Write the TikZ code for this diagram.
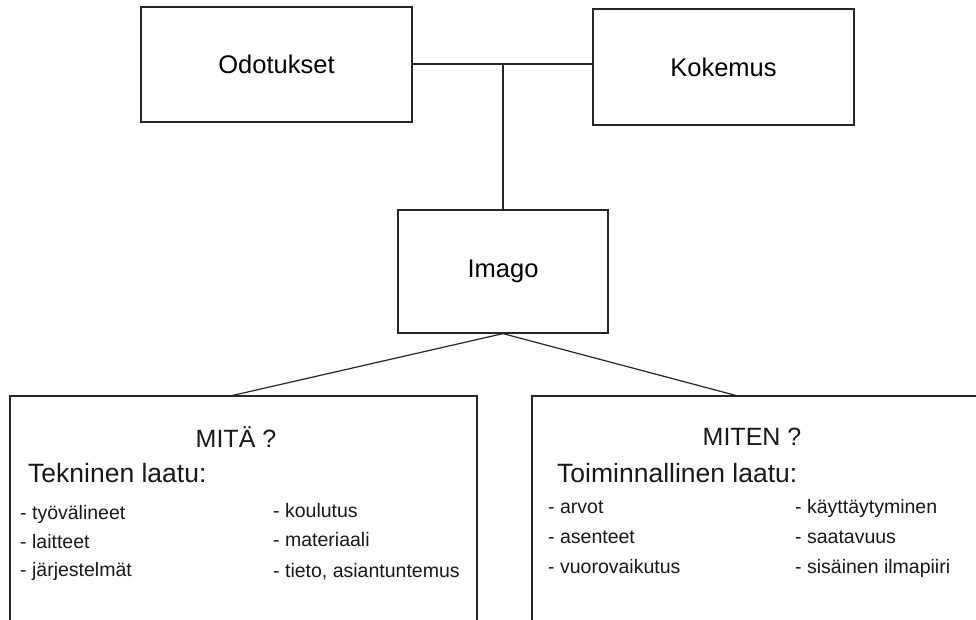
\documentclass[tikz,border=0pt]{standalone}
\usepackage{fontspec}
\setmainfont{Liberation Sans}
\begin{document}
\begin{tikzpicture}[x=1pt,y=-1pt,
  box/.style={draw=black!85,line width=1.2pt,inner sep=0pt,font=\fontsize{25.5}{30}\selectfont},
  link/.style={draw=black!85,line width=1.2pt},
  txt/.style={inner sep=0pt,text=black!90},
  head/.style={txt,anchor=base,font=\fontsize{25}{30}\selectfont},
  sub/.style={txt,anchor=base west,font=\fontsize{26.5}{31}\selectfont},
  item/.style={txt,anchor=base west,font=\fontsize{19.5}{23}\selectfont}]
\useasboundingbox (0,0) rectangle (976,619);
\clip (0,0) rectangle (976,619);
\fill[white] (0,0) rectangle (976,619);

% upper boxes
\node[box,minimum width=271pt,minimum height=115pt] (odo) at (276.5,64.5) {Odotukset};
\node[box,minimum width=261pt,minimum height=116pt] (kok) at (723.5,67) {Kokemus};
\node[box,minimum width=210pt,minimum height=123pt] (imago) at (503,271.5) {Imago};

% lower boxes (run past the bottom edge)
\node[box,minimum width=467pt,minimum height=250pt] (mita) at (243.5,521) {};
\node[box,minimum width=460pt,minimum height=250pt] (miten) at (762,521) {};

% attachment points on the lower boxes
\coordinate (ml) at (230,396);
\coordinate (mr) at (738,396);

% connectors
\draw[link] (odo.east |- 0,64) -- (kok.west |- 0,64);
\draw[link] (imago.north) -- (imago.north |- 0,64);
\draw[link] (imago.south) -- (ml);
\draw[link] (imago.south) -- (mr);

% left box contents
\node[head] (mitaq) at (236,447) {MITÄ ?};
\node[sub] (tek) at (28,482) {Tekninen laatu:};
\node[item] (a1) at (20,519) {- työvälineet};
\node[item] (a2) at (20,548) {- laitteet};
\node[item] (a3) at (20,576) {- järjestelmät};
\node[item] (b1) at (273,517) {- koulutus};
\node[item] (b2) at (273,546) {- materiaali};
\node[item] (b3) at (273,577) {- tieto, asiantuntemus};

% right box contents
\node[head] (mitenq) at (752,445) {MITEN ?};
\node[sub] (toim) at (557,482) {Toiminnallinen laatu:};
\node[item] (c1) at (548,513) {- arvot};
\node[item] (c2) at (548,543) {- asenteet};
\node[item] (c3) at (548,573) {- vuorovaikutus};
\node[item] (d1) at (795,513) {- käyttäytyminen};
\node[item] (d2) at (795,543) {- saatavuus};
\node[item] (d3) at (795,573) {- sisäinen ilmapiiri};
\end{tikzpicture}
\end{document}
